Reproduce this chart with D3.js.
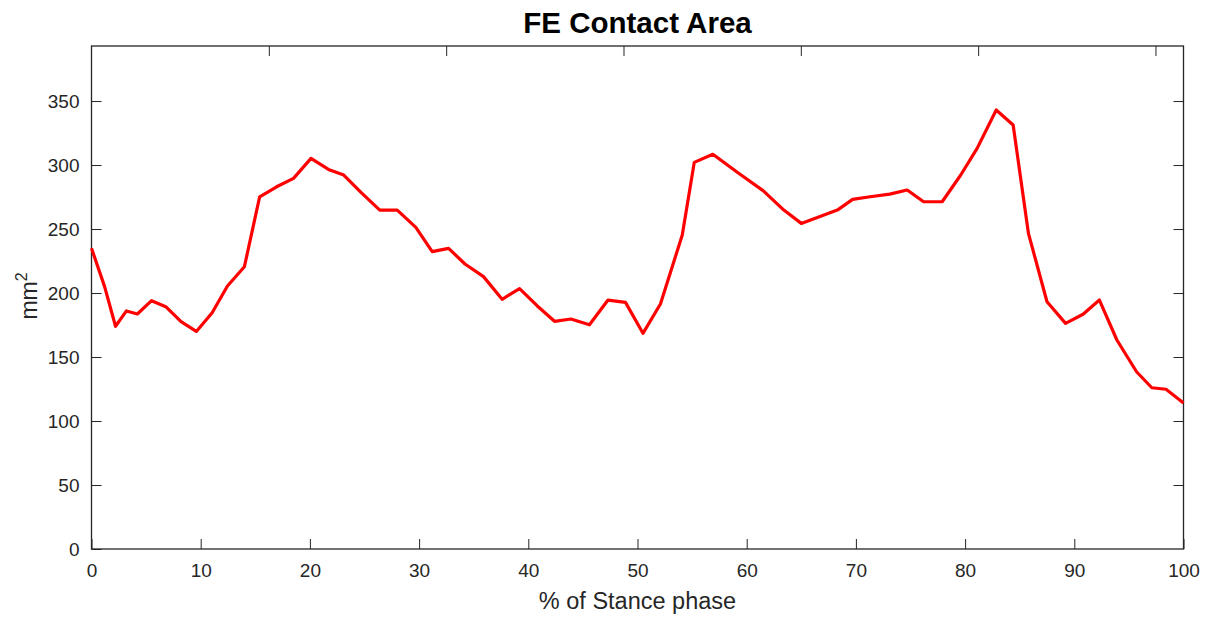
<!DOCTYPE html>
<html>
<head>
<meta charset="utf-8">
<script src="https://cdn.jsdelivr.net/npm/d3@7"></script>
<style>
  html, body { margin: 0; padding: 0; background: #fff; }
  svg { display: block; font-family: Arial, "Liberation Sans", Helvetica, sans-serif; }
</style>
</head>
<body>
<svg id="chart" width="1208" height="619"></svg>
<script>
// ---- data ----
const stancePct = [0, 1.2, 2.2, 3.2, 4.2, 5.5, 6.8, 8.2, 9.6, 11.05, 12.45, 14.0, 15.4, 16.95, 18.5, 20.1, 21.7, 23.1, 24.7, 26.4, 28.0, 29.7, 31.2, 32.7, 34.2, 35.9, 37.6, 39.2, 40.8, 42.4, 43.9, 45.6, 47.3, 48.9, 50.5, 52.1, 54.1, 55.2, 56.9, 59.2, 61.5, 63.4, 65.0, 68.3, 69.7, 71.3, 73.1, 74.7, 76.2, 77.9, 79.6, 81.1, 82.85, 84.4, 85.8, 87.5, 89.2, 90.8, 92.3, 93.9, 95.7, 97.1, 98.4, 100];
const contactArea = [235, 205, 174, 186, 183.6, 194, 189.3, 177.6, 170, 184.6, 205.5, 220.5, 275.2, 283, 289.6, 305.2, 296.6, 292.2, 278.5, 264.8, 264.8, 251.3, 232.3, 234.9, 222.7, 212.8, 195.1, 203.4, 190.1, 177.9, 179.7, 175.2, 194.5, 192.7, 168.5, 191.4, 245.3, 302.1, 308.4, 294, 280, 264.8, 254.4, 264.8, 273.2, 275.2, 277.3, 280.5, 271.3, 271.3, 292.2, 313, 343, 331.3, 246.6, 193.2, 176.3, 183.4, 194.5, 163.3, 138.5, 126, 124.8, 114];
const xTicks = [0, 10, 20, 30, 40, 50, 60, 70, 80, 90, 100];
const yTicks = [0, 50, 100, 150, 200, 250, 300, 350];
const topTicks = [10, 20, 30, 40, 50, 60];   // secondary (frame) axis, unlabeled
const xDomain = [0, 100];
const yDomain = [0, 393];
const topDomain = [0, 61.58];
const titleText = "FE Contact Area";
const xLabelText = "% of Stance phase";

// ---- layout ----
const L = 91.5, R = 1183.5, T = 46, B = 549;
const axisColor = "#262626";
const svg = d3.select("#chart");

const x = d3.scaleLinear().domain(xDomain).range([L, R]);
const y = d3.scaleLinear().domain(yDomain).range([B, T]);
const xTop = d3.scaleLinear().domain(topDomain).range([L, R]);

function styleAxis(g) {
  g.select(".domain").remove();
  g.selectAll(".tick line").attr("stroke", axisColor).attr("stroke-width", 1);
  g.selectAll(".tick text").attr("fill", axisColor).attr("font-size", 19)
    .attr("font-family", "Arial, 'Liberation Sans', Helvetica, sans-serif");
}

// bottom axis (ticks inward)
svg.append("g").attr("transform", `translate(0,${B})`)
  .call(d3.axisBottom(x).tickValues(xTicks).tickFormat(d3.format("d")).tickSizeInner(-10).tickSizeOuter(0).tickPadding(15))
  .call(styleAxis);

// left axis
svg.append("g").attr("transform", `translate(${L},0)`)
  .call(d3.axisLeft(y).tickValues(yTicks).tickFormat(d3.format("d")).tickSizeInner(-10).tickSizeOuter(0).tickPadding(12))
  .call(styleAxis);

// right axis (mirrored ticks, no labels)
svg.append("g").attr("transform", `translate(${R},0)`)
  .call(d3.axisRight(y).tickValues(yTicks.filter(d => d > 0)).tickFormat("").tickSizeInner(-10).tickSizeOuter(0))
  .call(styleAxis);

// top axis (secondary ticks, no labels)
svg.append("g").attr("transform", `translate(0,${T})`)
  .call(d3.axisTop(xTop).tickValues(topTicks).tickFormat("").tickSizeInner(-10).tickSizeOuter(0))
  .call(styleAxis);

// box
svg.append("rect")
  .attr("x", L).attr("y", T).attr("width", R - L).attr("height", B - T)
  .attr("fill", "none").attr("stroke", axisColor).attr("stroke-width", 1.3);

// line
const pts = stancePct.map((d, i) => [d, contactArea[i]]);
svg.append("path")
  .datum(pts)
  .attr("fill", "none")
  .attr("stroke", "#ff0000")
  .attr("stroke-width", 3.2)
  .attr("stroke-linejoin", "round")
  .attr("d", d3.line().x(d => x(d[0])).y(d => y(d[1])));

// title
svg.append("text")
  .attr("x", (L + R) / 2).attr("y", 33)
  .attr("text-anchor", "middle")
  .attr("font-size", 29.5).attr("font-weight", "bold").attr("fill", "#000")
  .text(titleText);

// x label
svg.append("text")
  .attr("x", (L + R) / 2).attr("y", 609)
  .attr("text-anchor", "middle")
  .attr("font-size", 23.5).attr("fill", axisColor)
  .text(xLabelText);

// y label mm²
const yl = svg.append("text")
  .attr("transform", `translate(37,296) rotate(-90)`)
  .attr("text-anchor", "middle")
  .attr("font-size", 23).attr("fill", axisColor);
yl.append("tspan").text("mm");
yl.append("tspan").attr("dy", -10).attr("font-size", 16).text("2");
</script>
</body>
</html>
